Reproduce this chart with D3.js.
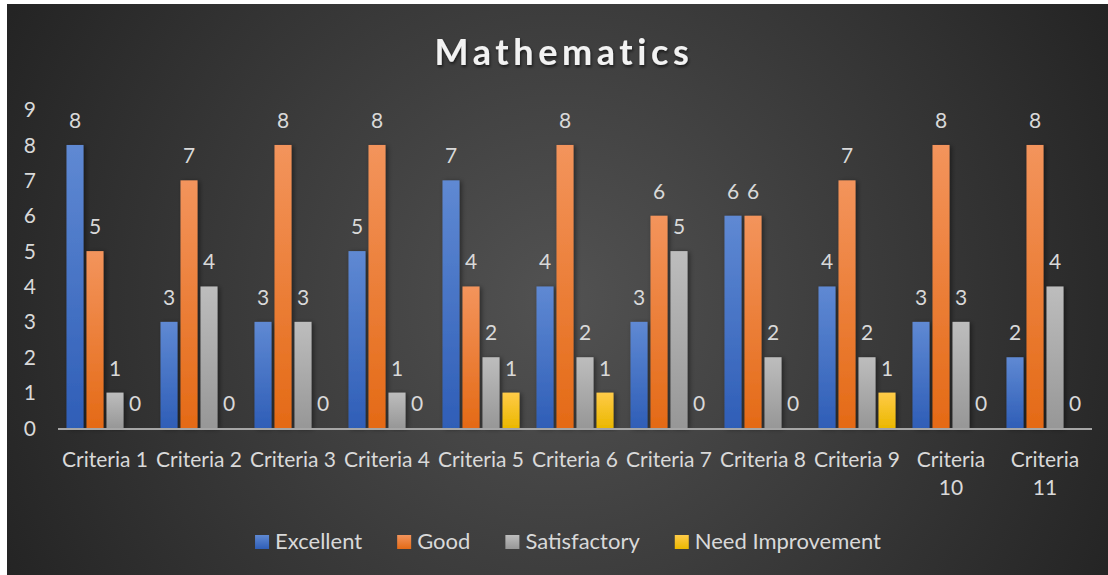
<!DOCTYPE html>
<html lang="en">
<head>
  <meta charset="UTF-8">
  <title>Mathematics</title>
  <style>
    body {
      margin: 0;
      background: #ffffff;
    }
    svg text {
      font-family: Lato, "Open Sans", sans-serif;
    }
    .value-label, .tick-label, .cat-label, .legend-label {
      fill: #d9d9d9;
      font-size: 21px;
    }
    .legend-label {
      font-size: 22px;
    }
    .title {
      fill: #f2f2f2;
      font-size: 36px;
      font-weight: bold;
      letter-spacing: 4.6px;
    }
  </style>
</head>
<body>
  <svg id="chart" width="1108" height="575"></svg>

  <script src="https://d3js.org/d3.v7.min.js"></script>
  <script>
    // chart data
    const categories = ["Criteria 1", "Criteria 2", "Criteria 3", "Criteria 4", "Criteria 5", "Criteria 6",
                        "Criteria 7", "Criteria 8", "Criteria 9", "Criteria 10", "Criteria 11"];
    const seriesNames = ["Excellent", "Good", "Satisfactory", "Need Improvement"];
    const excellent = [8, 3, 3, 5, 7, 4, 3, 6, 4, 3, 2];
    const good = [5, 7, 8, 8, 4, 8, 6, 6, 7, 8, 8];
    const satisfactory = [1, 4, 3, 1, 2, 2, 5, 2, 2, 3, 4];
    const needImprovement = [0, 0, 0, 0, 1, 1, 0, 0, 1, 0, 0];
    const yTicks = [0, 1, 2, 3, 4, 5, 6, 7, 8, 9];

    const seriesValues = [excellent, good, satisfactory, needImprovement];
    const colors = [
      ["#5f89d3", "#2f5eb7"],
      ["#f3945c", "#e46a16"],
      ["#bdbdbd", "#979797"],
      ["#ffcb48", "#ebb800"]
    ];

    const svg = d3.select("#chart");
    const defs = svg.append("defs");

    // background radial gradient
    const bg = defs.append("radialGradient")
      .attr("id", "bg")
      .attr("gradientUnits", "userSpaceOnUse")
      .attr("cx", 560).attr("cy", 300).attr("r", 620);
    bg.append("stop").attr("offset", "0%").attr("stop-color", "#525252");
    bg.append("stop").attr("offset", "100%").attr("stop-color", "#242424");

    seriesNames.forEach((s, i) => {
      const lg = defs.append("linearGradient")
        .attr("id", "grad" + i)
        .attr("x1", 0).attr("y1", 0).attr("x2", 0).attr("y2", 1);
      lg.append("stop").attr("offset", "0%").attr("stop-color", colors[i][0]);
      lg.append("stop").attr("offset", "100%").attr("stop-color", colors[i][1]);
    });

    const shadow = defs.append("filter")
      .attr("id", "shadow")
      .attr("x", "-50%").attr("y", "-10%").attr("width", "200%").attr("height", "120%");
    shadow.append("feDropShadow")
      .attr("dx", 2).attr("dy", 1).attr("stdDeviation", 2.5)
      .attr("flood-color", "#000").attr("flood-opacity", 0.45);

    const titleShadow = defs.append("filter").attr("id", "tshadow");
    titleShadow.append("feDropShadow")
      .attr("dx", 1).attr("dy", 2).attr("stdDeviation", 1.5)
      .attr("flood-color", "#000").attr("flood-opacity", 0.6);

    svg.append("rect")
      .attr("x", 7).attr("y", 4)
      .attr("width", 1101).attr("height", 571)
      .attr("fill", "url(#bg)");

    // scales
    const x0 = d3.scaleBand().domain(categories).range([58, 1092]);
    const x1 = d3.scaleBand().domain(seriesNames).range([8.5, 85.5]).paddingInner(0.15);
    const y = d3.scaleLinear().domain([0, 9]).range([428, 109.6]);

    // title
    svg.append("text")
      .attr("class", "title")
      .attr("x", 564)
      .attr("y", 65)
      .attr("text-anchor", "middle")
      .attr("filter", "url(#tshadow)")
      .text("Mathematics");

    // y axis labels
    svg.append("g")
      .selectAll("text")
      .data(yTicks)
      .join("text")
      .attr("class", "tick-label")
      .attr("x", 36)
      .attr("y", d => y(d))
      .attr("dy", "0.36em")
      .attr("text-anchor", "end")
      .text(d => d);

    // bars
    const groups = svg.append("g")
      .selectAll("g")
      .data(categories)
      .join("g")
      .attr("transform", d => `translate(${x0(d)},0)`);

    groups.selectAll("rect")
      .data((c, ci) => seriesNames.map((s, si) => ({ s, si, v: seriesValues[si][ci] })))
      .join("rect")
      .attr("x", d => x1(d.s))
      .attr("width", x1.bandwidth())
      .attr("y", d => y(d.v))
      .attr("height", d => y(0) - y(d.v))
      .attr("fill", d => `url(#grad${d.si})`)
      .attr("filter", "url(#shadow)");

    groups.selectAll("text")
      .data((c, ci) => seriesNames.map((s, si) => ({ s, si, v: seriesValues[si][ci] })))
      .join("text")
      .attr("class", "value-label")
      .attr("x", d => x1(d.s) + x1.bandwidth() / 2)
      .attr("y", d => y(d.v) - 17)
      .attr("text-anchor", "middle")
      .text(d => d.v);

    // x axis line
    svg.append("line")
      .attr("x1", x0.range()[0]).attr("x2", x0.range()[1])
      .attr("y1", y(0) + 1).attr("y2", y(0) + 1)
      .attr("stroke", "#a6a6a6")
      .attr("stroke-width", 2);

    // category labels (wrap when too wide for the band)
    categories.forEach(c => {
      const t = svg.append("text")
        .attr("class", "cat-label")
        .attr("x", x0(c) + x0.bandwidth() / 2)
        .attr("y", 467)
        .attr("text-anchor", "middle")
        .text(c);
      if (t.node().getComputedTextLength() > x0.bandwidth() - 2) {
        const words = c.split(" ");
        t.text(null);
        words.forEach((w, i) => {
          t.append("tspan")
            .attr("x", x0(c) + x0.bandwidth() / 2)
            .attr("dy", i === 0 ? 0 : 28)
            .text(w);
        });
      }
    });

    // legend
    const legend = svg.append("g");
    const items = legend.selectAll("g")
      .data(seriesNames)
      .join("g");
    items.append("rect")
      .attr("width", 14).attr("height", 14)
      .attr("y", 535)
      .attr("fill", (d, i) => `url(#grad${i})`);
    items.append("text")
      .attr("class", "legend-label")
      .attr("x", 20)
      .attr("y", 549)
      .text(d => d);

    const gap = 35;
    let offset = 0;
    const widths = [];
    items.each(function () {
      const w = 20 + d3.select(this).select("text").node().getComputedTextLength();
      widths.push(w);
    });
    const totalW = d3.sum(widths) + gap * (widths.length - 1);
    const start = 568 - totalW / 2;
    items.attr("transform", (d, i) => {
      const tx = start + offset;
      offset += widths[i] + gap;
      return `translate(${tx},0)`;
    });
  </script>
</body>
</html>
